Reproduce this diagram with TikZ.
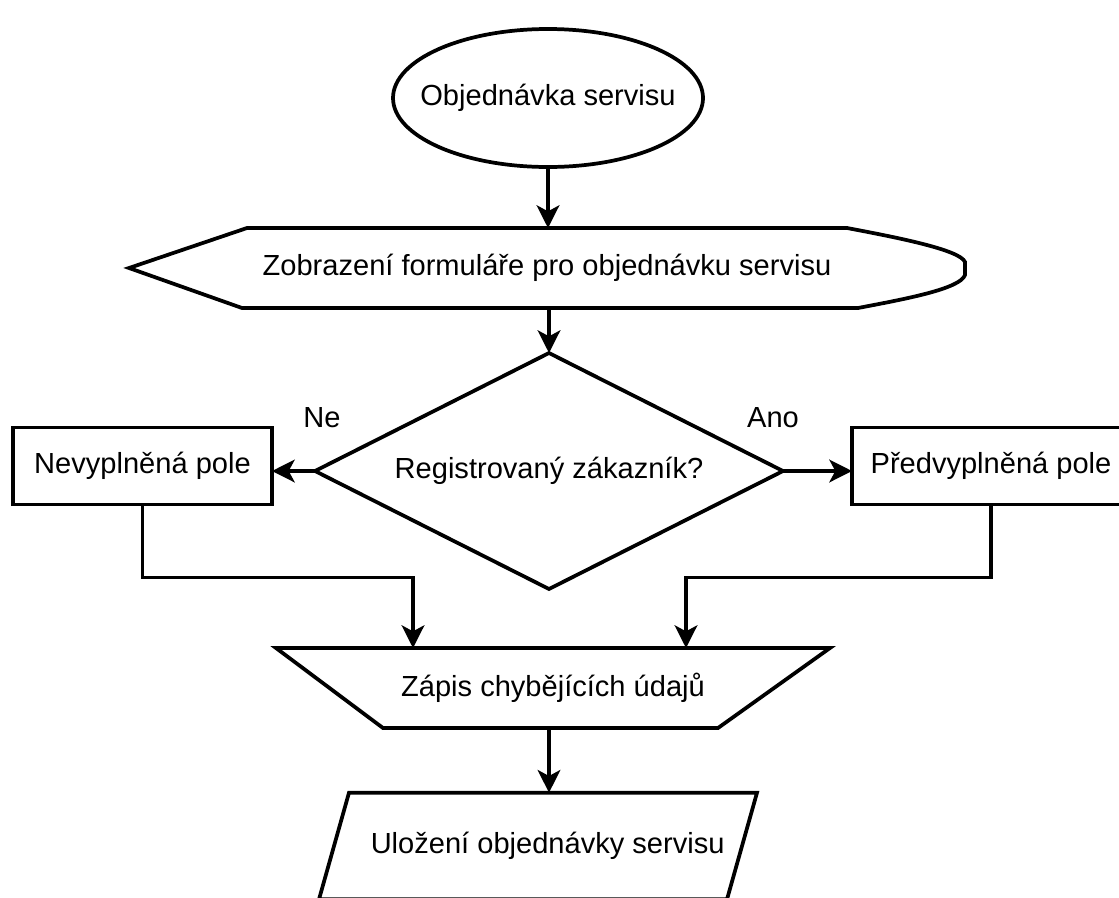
\documentclass[tikz,border=0pt]{standalone}
\usepackage{fontspec}
\setmainfont{Liberation Sans}
\usetikzlibrary{shapes.geometric,arrows.meta,calc}

\tikzset{
  base/.style={font=\fontsize{21.8}{26}\selectfont, inner sep=0pt, outer sep=0pt},
  outline/.style={line width=2.8pt, line join=miter},
  startnode/.style={base, ellipse, draw, outline, minimum width=232.5pt, minimum height=103.5pt},
  procbox/.style={base, rectangle, draw, outline, minimum height=57.75pt},
  decision/.style={base, diamond, draw, outline, aspect=2, minimum width=351pt, minimum height=177pt},
  frame/.style={base, rectangle, draw=none},
  branch/.style={base},
  arr/.style={line width=2.8pt, -{Stealth[length=17pt, width=17pt, inset=4.5pt]}},
}

\begin{document}
\begin{tikzpicture}[x=0.75pt, y=-0.75pt]
  \useasboundingbox (0,0) rectangle (1119,897);
  \clip (0,0) rectangle (1119,897);

  % start
  \node[startnode] (obj) at (548,98) {\makebox[0pt]{Objednávka servisu}};

  % display shape
  \node[frame, minimum width=627pt, minimum height=60pt] (form) at (547,268)
    {Zobrazení formuláře pro objednávku servisu};
  \draw[outline] (form.west)
    -- ($(form.north west)+(118,0)$)
    -- ($(form.north east)+(-118,0)$)
    .. controls ($(form.north east)+(-65,10)$) and ($(form.north east)+(-5,22)$) .. ($(form.east)+(0,-6)$)
    -- ($(form.east)+(0,7)$)
    .. controls ($(form.south east)+(-5,-19)$) and ($(form.south east)+(-60,-9)$) .. ($(form.south east)+(-107,0)$)
    -- ($(form.south west)+(113,0)$)
    -- cycle;

  % decision
  \node[decision] (reg) at (549,471) {\makebox[0pt]{Registrovaný zákazník?}};

  % branches
  \node[procbox, minimum width=194.25pt] (nevy) at (142.5,466) {Nevyplněná pole};
  \node[procbox, minimum width=208.5pt] (pred) at (991,466) {Předvyplněná pole};

  \node[branch] (ne) at (322,418) {Ne};
  \node[branch] (ano) at (773,418) {Ano};

  % manual input (inverted trapezoid)
  \node[frame, minimum width=415.5pt, minimum height=60pt] (zapis) at (553,688)
    {Zápis chybějících údajů};
  \draw[outline] (zapis.north west) -- (zapis.north east)
    -- ($(zapis.south east)+(-112,0)$)
    -- ($(zapis.south west)+(107,0)$) -- cycle;

  % data (parallelogram)
  \node[frame, minimum width=306pt, minimum height=80pt] (ulozeni) at (553,846)
    {\hspace*{-8pt}Uložení objednávky servisu};
  \draw[outline] (ulozeni.north west) -- (ulozeni.north east)
    -- ($(ulozeni.south east)+(-30,0)$)
    -- ($(ulozeni.south west)+(-30,0)$) -- cycle;

  % connectors
  \draw[arr] (obj.south) -- (obj.south |- form.north);
  \draw[arr] (reg.north |- form.south) -- (reg.north);
  \draw[arr] (reg.west) -- (reg.west -| nevy.east);
  \draw[arr] (reg.east) -- (reg.east -| pred.west);
  \draw[arr] (nevy.south) -- ++(0,73) -| ($(zapis.north)+(-140,0)$);
  \draw[arr] (pred.south) -- ++(0,73) -| ($(zapis.north)+(133,0)$);
  \draw[arr] (reg.south |- zapis.south) -- (reg.south |- ulozeni.north);
\end{tikzpicture}
\end{document}
